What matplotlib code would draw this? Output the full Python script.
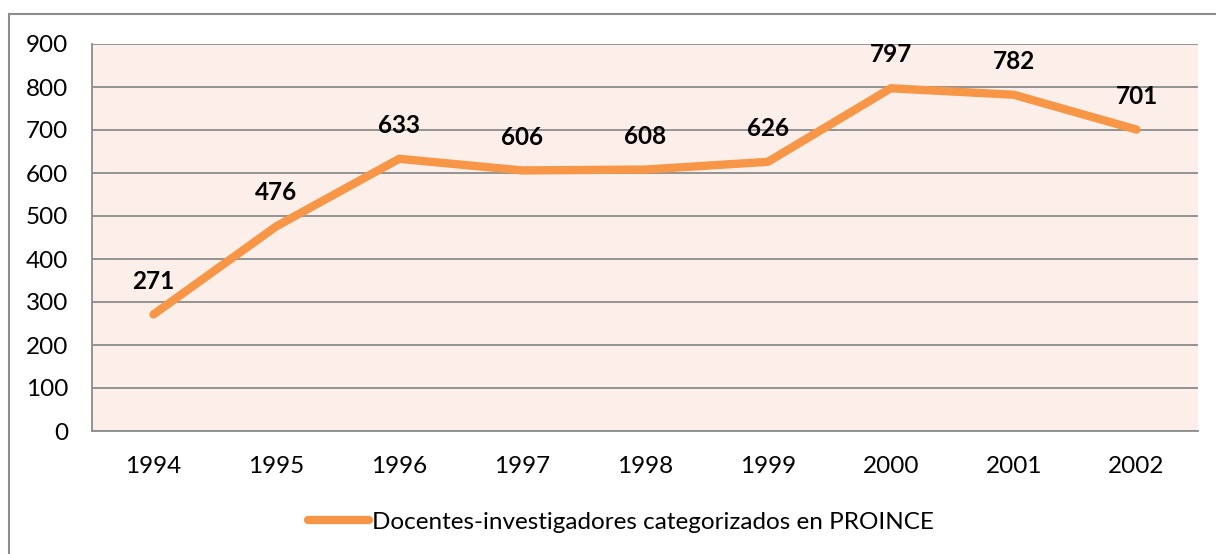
import matplotlib
matplotlib.use("Agg")
import matplotlib.pyplot as plt
from matplotlib.patches import Rectangle

years = ["1994", "1995", "1996", "1997", "1998", "1999", "2000", "2001", "2002"]
values = [271, 476, 633, 606, 608, 626, 797, 782, 701]
series_name = "Docentes-investigadores categorizados en PROINCE"
yticks = [0, 100, 200, 300, 400, 500, 600, 700, 800, 900]

plt.rcParams['font.family'] = ['Lato', 'DejaVu Sans']

fig = plt.figure(figsize=(12.16, 5.54), dpi=100)
fig.patch.set_facecolor("white")
fig.add_artist(Rectangle((9/1216, -0.01), (1216-9)/1216 + 0.01, 1 - 14/554 + 0.01,
                         transform=fig.transFigure, fill=False, edgecolor="#8c8c8c", lw=1.5))

ax = fig.add_axes([92/1216, 1 - 431/554, (1198 - 92)/1216, (431 - 44)/554])
ax.set_facecolor("#FCEEE9")
x = list(range(len(years)))
line, = ax.plot(x, values, color="#F79646", lw=6, solid_capstyle="round",
                solid_joinstyle="round", label=series_name, zorder=3)
for xi, v in zip(x, values):
    ax.annotate(str(v), (xi, v), xytext=(0, 24), textcoords="offset points",
                ha="center", va="center", fontsize=17.5, fontweight="bold", color="black")

ax.set_xlim(-0.5, len(years) - 0.5)
ax.set_ylim(0, 900)
ax.set_yticks(yticks)
ax.set_yticklabels([str(t) for t in yticks], fontsize=17.5)
ax.set_xticks(x)
ax.set_xticklabels(years, fontsize=17.5)
ax.tick_params(axis="both", length=0, colors="black")
ax.tick_params(axis="y", pad=17)
ax.tick_params(axis="x", pad=18)
ax.grid(axis="y", color="#8c8c8c", lw=1.3)
ax.set_axisbelow(True)
for s in ["top", "right"]:
    ax.spines[s].set_visible(False)
for s in ["left", "bottom"]:
    ax.spines[s].set_color("#8c8c8c")
    ax.spines[s].set_linewidth(1.3)

fig.legend(handles=[line], loc="center", bbox_to_anchor=(621/1216, 1 - 522/554),
           frameon=False, fontsize=17.5, handlelength=2.5, handletextpad=0.1)

fig.savefig("out.png", dpi=100)
